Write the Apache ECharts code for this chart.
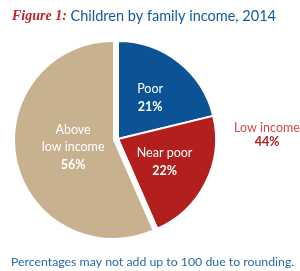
<!DOCTYPE html>
<html>
<head>
<meta charset="utf-8">
<script src="https://cdn.jsdelivr.net/npm/echarts@6/dist/echarts.min.js"></script>
<style>
html,body{margin:0;padding:0;background:#fff;}
#chart{width:300px;height:271px;}
</style>
</head>
<body>
<div id="chart"></div>
<script>
var categories = ['Poor', 'Near poor', 'Above\nlow income'];
var shares = [21, 22, 56];
var lowIncomeShare = 44;
var colors = ['#0b5394', '#b21f1c', '#c8b18f'];

var FONT = 'Lato';

var chart = echarts.init(document.getElementById('chart'));

function slice(i) {
    return {
        name: categories[i],
        value: shares[i],
        itemStyle: { color: colors[i] }
    };
}

var sliceLabel = {
    show: true,
    position: 'inside',
    color: '#fff',
    fontFamily: FONT,
    formatter: function (p) {
        return '{n|' + p.name + '}\n{v|' + p.value + '%}';
    },
    rich: {
        n: { fontSize: 12.5, lineHeight: 17, color: '#fff', fontFamily: FONT },
        v: { fontSize: 12.5, lineHeight: 19, color: '#fff', fontWeight: 'bold', fontFamily: FONT }
    }
};

var option = {
    backgroundColor: '#fff',
    animation: false,
    title: [
        {
            text: '{f|Figure 1:}{t| Children by family income, 2014}',
            left: 7,
            top: 4,
            textStyle: {
                rich: {
                    f: { fontFamily: 'Liberation Serif', fontStyle: 'italic', fontWeight: 'bold', fontSize: 14, color: '#b8262b' },
                    t: { fontFamily: FONT, fontWeight: 'normal', fontSize: 14.5, color: '#135a9c' }
                }
            }
        },
        {
            text: 'Percentages may not add up to 100 due to rounding.',
            left: 6,
            top: 251,
            textStyle: { fontFamily: FONT, fontSize: 12.3, fontWeight: 'normal', color: '#2a6aa8' }
        },
        {
            text: 'Low income',
            subtext: lowIncomeShare + '%',
            left: 262,
            top: 116,
            textAlign: 'center',
            itemGap: 1,
            textStyle: { fontFamily: FONT, fontSize: 12.5, fontWeight: 'normal', color: '#cc4a4c' },
            subtextStyle: { fontFamily: FONT, fontSize: 12.5, fontWeight: 'bold', color: '#b21f1c' }
        }
    ],
    series: [
        {
            // low-income group pulled out to the right
            type: 'pie',
            center: [118, 139],
            radius: [0, 98],
            startAngle: 90,
            clockwise: true,
            silent: true,
            itemStyle: { borderColor: '#fff', borderWidth: 2 },
            label: sliceLabel,
            labelLine: { show: false },
            data: [slice(0), slice(1), { value: shares[2], itemStyle: { color: 'transparent' }, label: { show: false } }]
        },
        {
            type: 'pie',
            center: [113, 140],
            radius: [0, 98],
            startAngle: 90,
            clockwise: true,
            silent: true,
            label: sliceLabel,
            labelLine: { show: false },
            labelLayout: { dx: 11, dy: -3 },
            data: [
                { value: shares[0], itemStyle: { color: 'transparent' }, label: { show: false } },
                { value: shares[1], itemStyle: { color: 'transparent' }, label: { show: false } },
                slice(2)
            ]
        }
    ]
};

chart.setOption(option);
</script>
</body>
</html>
